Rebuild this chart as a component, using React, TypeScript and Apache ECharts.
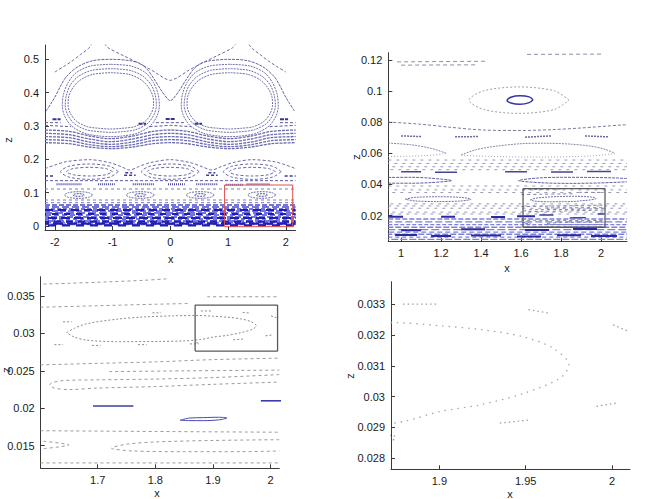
import React, { useEffect, useRef } from "react";
import * as echarts from "echarts";

type P = [number, number];

// ---------- tick labels ----------
const p1XTicks = [-2, -1, 0, 1, 2];
const p1ZTicks = [0, 0.1, 0.2, 0.3, 0.4, 0.5];
const p2XTicks = [1, 1.2, 1.4, 1.6, 1.8, 2];
const p2ZTicks = [0.02, 0.04, 0.06, 0.08, 0.1, 0.12];
const p3XTicks = [1.7, 1.8, 1.9, 2];
const p3ZTicks = [0.015, 0.02, 0.025, 0.03, 0.035];
const p4XTicks = [1.9, 1.95, 2];
const p4ZTicks = [0.028, 0.029, 0.03, 0.031, 0.032, 0.033];

// ---------- axis ranges ----------
const p1XRange: P = [-2.17, 2.17];
const p1ZRange: P = [-0.012, 0.543];
const p2XRange: P = [0.936, 2.13];
const p2ZRange: P = [0.0032, 0.1247];
const p3XRange: P = [1.6012, 2.015];
const p3ZRange: P = [0.01198, 0.03758];
const p4XRange: P = [1.872, 2.0104];
const p4ZRange: P = [0.02764, 0.03373];

// ---------- panel 1 (full view) ----------
const p1TopOuter: P[][] = [
  [[-2.0, 0.462], [-1.85, 0.478], [-1.7, 0.495], [-1.55, 0.515], [-1.42, 0.532], [-1.36, 0.545]],
  [[-1.14, 0.548], [-1.08, 0.535], [-0.8, 0.51], [-0.53, 0.487], [-0.3, 0.465], [-0.12, 0.445], [0, 0.437], [0.12, 0.445], [0.3, 0.465], [0.53, 0.487], [0.8, 0.51], [1.08, 0.535], [1.14, 0.548]],
  [[1.36, 0.545], [1.42, 0.532], [1.55, 0.515], [1.7, 0.495], [1.85, 0.478], [2.0, 0.462]],
];
const p1Separatrix: P[][] = [
  [[-2.15, 0.345], [-2.05, 0.372], [-2.0, 0.386], [-1.9, 0.42], [-1.8, 0.448], [-1.6, 0.478], [-1.34, 0.496], [-1.0, 0.5], [-0.7, 0.496], [-0.53, 0.488], [-0.4, 0.47], [-0.27, 0.438], [-0.15, 0.405], [-0.05, 0.382], [0, 0.376], [0.05, 0.382], [0.15, 0.405], [0.27, 0.438], [0.4, 0.47], [0.53, 0.488], [0.7, 0.496], [1.0, 0.5], [1.34, 0.496], [1.6, 0.478], [1.8, 0.448], [1.9, 0.42], [2.0, 0.386], [2.05, 0.372], [2.15, 0.345]],
];
const p1EyeLoops: P[][] = [
  [[-1.03, 0.485], [-0.68, 0.48], [-0.43, 0.46], [-0.29, 0.43], [-0.21, 0.395], [-0.19, 0.36], [-0.23, 0.33], [-0.35, 0.3], [-0.58, 0.278], [-0.83, 0.27], [-1.03, 0.268], [-1.23, 0.27], [-1.48, 0.278], [-1.71, 0.3], [-1.83, 0.33], [-1.87, 0.36], [-1.85, 0.395], [-1.77, 0.43], [-1.63, 0.46], [-1.38, 0.48], [-1.03, 0.485]],
  [[-1.03, 0.472], [-0.7, 0.467], [-0.47, 0.449], [-0.33, 0.423], [-0.26, 0.392], [-0.24, 0.362], [-0.28, 0.335], [-0.39, 0.308], [-0.6, 0.289], [-0.83, 0.283], [-1.03, 0.281], [-1.23, 0.283], [-1.46, 0.289], [-1.67, 0.308], [-1.78, 0.335], [-1.82, 0.362], [-1.8, 0.392], [-1.73, 0.423], [-1.59, 0.449], [-1.36, 0.467], [-1.03, 0.472]],
  [[-1.03, 0.46], [-0.72, 0.455], [-0.5, 0.438], [-0.37, 0.414], [-0.3, 0.388], [-0.29, 0.362], [-0.33, 0.338], [-0.43, 0.315], [-0.62, 0.298], [-0.84, 0.293], [-1.03, 0.291], [-1.22, 0.293], [-1.44, 0.298], [-1.63, 0.315], [-1.73, 0.338], [-1.77, 0.362], [-1.76, 0.388], [-1.69, 0.414], [-1.56, 0.438], [-1.34, 0.455], [-1.03, 0.46]],
  [[1.03, 0.485], [0.68, 0.48], [0.43, 0.46], [0.29, 0.43], [0.21, 0.395], [0.19, 0.36], [0.23, 0.33], [0.35, 0.3], [0.58, 0.278], [0.83, 0.27], [1.03, 0.268], [1.23, 0.27], [1.48, 0.278], [1.71, 0.3], [1.83, 0.33], [1.87, 0.36], [1.85, 0.395], [1.77, 0.43], [1.63, 0.46], [1.38, 0.48], [1.03, 0.485]],
  [[1.03, 0.472], [0.7, 0.467], [0.47, 0.449], [0.33, 0.423], [0.26, 0.392], [0.24, 0.362], [0.28, 0.335], [0.39, 0.308], [0.6, 0.289], [0.83, 0.283], [1.03, 0.281], [1.23, 0.283], [1.46, 0.289], [1.67, 0.308], [1.78, 0.335], [1.82, 0.362], [1.8, 0.392], [1.73, 0.423], [1.59, 0.449], [1.36, 0.467], [1.03, 0.472]],
  [[1.03, 0.46], [0.72, 0.455], [0.5, 0.438], [0.37, 0.414], [0.3, 0.388], [0.29, 0.362], [0.33, 0.338], [0.43, 0.315], [0.62, 0.298], [0.84, 0.293], [1.03, 0.291], [1.22, 0.293], [1.44, 0.298], [1.63, 0.315], [1.73, 0.338], [1.77, 0.362], [1.76, 0.388], [1.69, 0.414], [1.56, 0.438], [1.34, 0.455], [1.03, 0.46]],
];
const p1BetweenEyes: P[][] = [
  [[-2.17, 0.302], [-1.72, 0.298]],
  [[-0.36, 0.298], [0, 0.302], [0.36, 0.298]],
  [[1.72, 0.298], [2.17, 0.302]],
  [[-2.17, 0.31], [-1.9, 0.31]],
  [[-0.25, 0.31], [0.25, 0.31]],
  [[1.9, 0.31], [2.17, 0.31]],
];
const p1SmallBits: P[][] = [
  [[-2.04, 0.32], [-1.9, 0.32]],
  [[-0.08, 0.321], [0.08, 0.321]],
  [[1.9, 0.32], [2.04, 0.32]],
  [[-0.55, 0.307], [-0.42, 0.307]],
  [[0.42, 0.307], [0.55, 0.307]],
];
const p1WavyBand: P[][] = [
  [[-2.17, 0.288], [-1.75, 0.284], [-1.4, 0.27], [-1.03, 0.262], [-0.65, 0.27], [-0.3, 0.284], [0, 0.288], [0.3, 0.284], [0.65, 0.27], [1.03, 0.262], [1.4, 0.27], [1.75, 0.284], [2.17, 0.288]],
  [[-2.17, 0.278], [-1.75, 0.274], [-1.4, 0.261], [-1.03, 0.253], [-0.65, 0.261], [-0.3, 0.274], [0, 0.278], [0.3, 0.274], [0.65, 0.261], [1.03, 0.253], [1.4, 0.261], [1.75, 0.274], [2.17, 0.278]],
  [[-2.17, 0.268], [-1.75, 0.265], [-1.4, 0.252], [-1.03, 0.245], [-0.65, 0.252], [-0.3, 0.265], [0, 0.268], [0.3, 0.265], [0.65, 0.252], [1.03, 0.245], [1.4, 0.252], [1.75, 0.265], [2.17, 0.268]],
  [[-2.17, 0.259], [-1.75, 0.256], [-1.4, 0.244], [-1.03, 0.238], [-0.65, 0.244], [-0.3, 0.256], [0, 0.259], [0.3, 0.256], [0.65, 0.244], [1.03, 0.238], [1.4, 0.244], [1.75, 0.256], [2.17, 0.259]],
  [[-2.17, 0.25], [-1.75, 0.247], [-1.4, 0.237], [-1.03, 0.232], [-0.65, 0.237], [-0.3, 0.247], [0, 0.25], [0.3, 0.247], [0.65, 0.237], [1.03, 0.232], [1.4, 0.237], [1.75, 0.247], [2.17, 0.25]],
];
const p1UpperWave: P[][] = [
  [[-2.17, 0.172], [-2.0, 0.183], [-1.8, 0.193], [-1.4, 0.199], [-1.05, 0.19], [-0.85, 0.178], [-0.7, 0.168], [-0.55, 0.178], [-0.35, 0.19], [0, 0.199], [0.35, 0.19], [0.55, 0.178], [0.72, 0.168], [0.88, 0.178], [1.08, 0.19], [1.42, 0.199], [1.8, 0.193], [2.0, 0.183], [2.17, 0.172]],
];
const p1MidIslands: P[][] = [
  [[-0.9, 0.163], [-1.046, 0.1793], [-1.4, 0.186], [-1.754, 0.1793], [-1.9, 0.163], [-1.754, 0.1467], [-1.4, 0.14], [-1.046, 0.1467], [-0.9, 0.163]],
  [[0.5, 0.163], [0.354, 0.1793], [0, 0.186], [-0.354, 0.1793], [-0.5, 0.163], [-0.354, 0.1467], [0, 0.14], [0.354, 0.1467], [0.5, 0.163]],
  [[1.92, 0.163], [1.774, 0.1793], [1.42, 0.186], [1.066, 0.1793], [0.92, 0.163], [1.066, 0.1467], [1.42, 0.14], [1.774, 0.1467], [1.92, 0.163]],
  [[-1.0, 0.163], [-1.117, 0.1722], [-1.4, 0.176], [-1.683, 0.1722], [-1.8, 0.163], [-1.683, 0.1538], [-1.4, 0.15], [-1.117, 0.1538], [-1.0, 0.163]],
  [[0.4, 0.163], [0.283, 0.1722], [0, 0.176], [-0.283, 0.1722], [-0.4, 0.163], [-0.283, 0.1538], [0, 0.15], [0.283, 0.1538], [0.4, 0.163]],
  [[1.82, 0.163], [1.703, 0.1722], [1.42, 0.176], [1.137, 0.1722], [1.02, 0.163], [1.137, 0.1538], [1.42, 0.15], [1.703, 0.1538], [1.82, 0.163]],
];
const p1MidDashes: P[][] = [
  [[-0.8, 0.152], [-0.6, 0.152]],
  [[0.62, 0.152], [0.82, 0.152]],
  [[-2.17, 0.15], [-2.0, 0.15]],
  [[1.98, 0.15], [2.17, 0.15]],
  [[-0.78, 0.16], [-0.66, 0.16]],
  [[0.66, 0.16], [0.78, 0.16]],
];
const p1LowerLine: P[][] = [[[-2.17, 0.136], [2.17, 0.136]]];
const p1RulerRow: P[][] = [
  [[-1.97, 0.125], [-1.54, 0.125]],
  [[-1.25, 0.125], [-0.96, 0.125]],
  [[-0.65, 0.125], [-0.27, 0.125]],
  [[-0.04, 0.125], [0.25, 0.125]],
  [[0.45, 0.125], [0.82, 0.125]],
  [[0.96, 0.124], [1.26, 0.124]],
  [[1.32, 0.125], [1.72, 0.125]],
];
const p1SmallIslands: P[][] = [
  [[-1.343, 0.093], [-1.415, 0.1001], [-1.588, 0.103], [-1.761, 0.1001], [-1.833, 0.093], [-1.761, 0.0859], [-1.588, 0.083], [-1.415, 0.0859], [-1.343, 0.093]],
  [[-0.274, 0.093], [-0.346, 0.1001], [-0.519, 0.103], [-0.692, 0.1001], [-0.764, 0.093], [-0.692, 0.0859], [-0.519, 0.083], [-0.346, 0.0859], [-0.274, 0.093]],
  [[0.764, 0.093], [0.692, 0.1001], [0.519, 0.103], [0.346, 0.1001], [0.274, 0.093], [0.346, 0.0859], [0.519, 0.083], [0.692, 0.0859], [0.764, 0.093]],
  [[1.831, 0.093], [1.759, 0.1001], [1.586, 0.103], [1.413, 0.1001], [1.341, 0.093], [1.413, 0.0859], [1.586, 0.083], [1.759, 0.0859], [1.831, 0.093]],
];
const p1SmallCores: P[][] = [
  [[-1.488, 0.093], [-1.517, 0.0958], [-1.588, 0.097], [-1.659, 0.0958], [-1.688, 0.093], [-1.659, 0.0902], [-1.588, 0.089], [-1.517, 0.0902], [-1.488, 0.093]],
  [[-0.419, 0.093], [-0.448, 0.0958], [-0.519, 0.097], [-0.59, 0.0958], [-0.619, 0.093], [-0.59, 0.0902], [-0.519, 0.089], [-0.448, 0.0902], [-0.419, 0.093]],
  [[0.619, 0.093], [0.59, 0.0958], [0.519, 0.097], [0.448, 0.0958], [0.419, 0.093], [0.448, 0.0902], [0.519, 0.089], [0.59, 0.0902], [0.619, 0.093]],
  [[1.686, 0.093], [1.657, 0.0958], [1.586, 0.097], [1.515, 0.0958], [1.486, 0.093], [1.515, 0.0902], [1.586, 0.089], [1.657, 0.0902], [1.686, 0.093]],
];
const p1FaintLevels = [0.111, 0.078, 0.07];
const p1DenseLight = [0.063, 0.057, 0.051, 0.045, 0.039, 0.033, 0.027, 0.021, 0.015, 0.01, 0.005];
const p1DenseDark = [0.048, 0.036, 0.024, 0.013, 0.007, 0.002];
const p1RedBox: P[] = [[0.94, -0.002], [2.12, -0.002], [2.12, 0.123], [0.94, 0.123], [0.94, -0.002]];

// ---------- panel 2 (zoom x 0.94–2.13) ----------
const p2TopDashes: P[][] = [
  [[0.98, 0.1188], [1.42, 0.1192]],
  [[1.0, 0.1167], [1.37, 0.1169]],
  [[1.63, 0.1236], [2.01, 0.1238]],
];
const p2Island: P[][] = [
  [[1.84, 0.0942], [1.767, 0.1002], [1.59, 0.1027], [1.413, 0.1002], [1.34, 0.0942], [1.413, 0.0882], [1.59, 0.0857], [1.767, 0.0882], [1.84, 0.0942]],
];
const p2IslandCore: P[][] = [
  [[1.66, 0.0945], [1.641, 0.0963], [1.595, 0.097], [1.549, 0.0961], [1.53, 0.0941], [1.549, 0.0924], [1.595, 0.0916], [1.641, 0.0926], [1.66, 0.0945]],
];
const p2Wave: P[][] = [
  [[0.936, 0.0801], [1.1, 0.0787], [1.25, 0.0767], [1.41, 0.075], [1.6, 0.0747], [1.75, 0.0752], [1.9, 0.0763], [2.1, 0.0782], [2.13, 0.0784]],
];
const p2Row07: P[][] = [
  [[1.0, 0.0712], [1.1, 0.0708]],
  [[1.27, 0.0706], [1.385, 0.0708]],
  [[1.62, 0.0704], [1.75, 0.0712]],
  [[1.92, 0.0712], [2.035, 0.0706]],
];
const p2ArcsUpper: P[][] = [
  [[0.936, 0.0666], [1.05, 0.0655], [1.15, 0.0632], [1.225, 0.0601]],
  [[1.3, 0.059], [1.38, 0.0625], [1.47, 0.0645], [1.6, 0.0662], [1.72, 0.0665], [1.85, 0.0659], [1.95, 0.0646], [2.02, 0.0626], [2.07, 0.06]],
];
const p2ArcsLower: P[][] = [
  [[1.225, 0.0599], [1.12, 0.0585], [0.936, 0.058]],
  [[2.07, 0.0598], [1.95, 0.0583], [1.7, 0.0576], [1.45, 0.058], [1.3, 0.0588]],
];
const p2MidLevels = [0.0557, 0.0535, 0.0514, 0.0495, 0.039, 0.0365, 0.0348, 0.0275, 0.0262, 0.0247, 0.0222, 0.021];
const p2Row048: P[][] = [
  [[1.0, 0.0482], [1.1, 0.0482]],
  [[1.17, 0.0478], [1.28, 0.0478]],
  [[1.52, 0.0482], [1.63, 0.0482]],
  [[1.75, 0.048], [1.86, 0.048]],
  [[1.93, 0.0483], [2.05, 0.0483]],
];
const p2Islands042: P[][] = [
  [[0.936, 0.0445], [1.05, 0.0446], [1.15, 0.044], [1.253, 0.0425], [1.15, 0.0412], [1.05, 0.0408], [0.936, 0.0408]],
  [[2.13, 0.0438], [2.07, 0.0442], [1.95, 0.0445], [1.8, 0.0446], [1.68, 0.0441], [1.587, 0.0425], [1.7, 0.0411], [1.85, 0.0407], [2.0, 0.041], [2.13, 0.0417]],
];
const p2LeftIsland030: P[][] = [
  [[1.02, 0.0305], [1.07, 0.0317], [1.185, 0.0321], [1.3, 0.0317], [1.35, 0.0305], [1.3, 0.0294], [1.185, 0.029], [1.07, 0.0294], [1.02, 0.0305]],
];
const p2DarkPieces: P[][] = [
  [[0.94, 0.0192], [1.01, 0.0192]],
  [[1.2, 0.0192], [1.27, 0.0192]],
  [[1.45, 0.019], [1.52, 0.019]],
  [[1.58, 0.0195], [1.67, 0.0195]],
  [[0.97, 0.0075], [1.08, 0.0075]],
  [[1.15, 0.0068], [1.25, 0.0068]],
  [[1.35, 0.0072], [1.5, 0.0072]],
  [[1.58, 0.0066], [1.7, 0.0066]],
  [[1.78, 0.0074], [1.9, 0.0074]],
  [[1.95, 0.0068], [2.08, 0.0068]],
  [[1.0, 0.0105], [1.1, 0.0105]],
  [[1.3, 0.0112], [1.42, 0.0112]],
  [[1.62, 0.0108], [1.74, 0.0108]],
  [[1.86, 0.0113], [1.98, 0.0113]],
];
const p2DenseLevels = [0.0178, 0.016, 0.0142, 0.0125, 0.011, 0.0094, 0.008, 0.0062, 0.0047];
const p2GreyBox: P[] = [[1.61, 0.0125], [2.02, 0.0125], [2.02, 0.0373], [1.61, 0.0373], [1.61, 0.0125]];

// ---------- fine structure (panels 3 and 4, also drawn in 2) ----------
const fineEllipse: P[][] = [
  [[1.646, 0.0301], [1.66, 0.0307], [1.681, 0.0313], [1.733, 0.0319], [1.78, 0.0322], [1.83, 0.03235], [1.874, 0.0324], [1.9, 0.0323], [1.925, 0.03217], [1.948, 0.03195], [1.966, 0.03157], [1.975, 0.03103], [1.97, 0.0306], [1.9486, 0.0301], [1.9235, 0.02973], [1.9, 0.02951], [1.879, 0.02919], [1.85, 0.029], [1.808, 0.02893], [1.733, 0.0289], [1.681, 0.0291], [1.66, 0.0295], [1.646, 0.0301]],
];
const fineGreyCurves: P[][] = [
  [[1.606, 0.0366], [1.65, 0.0367], [1.72, 0.0369], [1.78, 0.0371], [1.82, 0.0373]],
  [[1.89, 0.0349], [1.95, 0.0349], [2.015, 0.0349]],
  [[1.601, 0.0335], [1.7, 0.0337], [1.8, 0.0339], [1.86, 0.034]],
  [[1.601, 0.0258], [1.7, 0.026], [1.8, 0.0262], [1.9, 0.0265], [2.015, 0.0267]],
  [[1.72, 0.0249], [1.85, 0.025], [2.015, 0.0251]],
  [[2.015, 0.0245], [1.9, 0.0241], [1.8, 0.0239], [1.7, 0.0238], [1.64, 0.0237], [1.62, 0.0234], [1.617, 0.0231], [1.625, 0.0227], [1.65, 0.0225], [1.7, 0.0227], [1.8, 0.0229], [1.9, 0.0232], [2.015, 0.0235]],
  [[1.601, 0.017], [1.8, 0.0169], [2.015, 0.0168]],
  [[2.015, 0.0158], [1.9, 0.0157], [1.8, 0.0155], [1.75, 0.0152], [1.724, 0.01467], [1.76, 0.0143], [1.85, 0.0142], [1.95, 0.0142], [2.015, 0.0143]],
  [[1.606, 0.0156], [1.65, 0.0151], [1.606, 0.0146]],
  [[1.601, 0.0127], [1.8, 0.0127], [2.015, 0.0127]],
];
const fineBits: P[][] = [
  [[1.879, 0.033], [1.899, 0.033]],
  [[1.9516, 0.03282], [1.964, 0.03271]],
  [[2.0006, 0.03233], [2.01, 0.03211]],
  [[1.991, 0.02968], [2.0025, 0.02979]],
  [[1.935, 0.02914], [1.952, 0.02924]],
  [[1.871, 0.02875], [1.876, 0.0287]],
  [[1.64, 0.03155], [1.655, 0.03155]],
  [[1.795, 0.03275], [1.81, 0.03275]],
  [[1.625, 0.0285], [1.64, 0.0285]],
  [[1.69, 0.0284], [1.705, 0.0284]],
  [[1.77, 0.0285], [1.785, 0.0285]],
  [[1.86, 0.0286], [1.875, 0.0286]],
];
const fineBlue: P[][] = [
  [[1.692, 0.0203], [1.762, 0.0203]],
  [[1.983, 0.021], [2.018, 0.021]],
];
const fineBlueLoop: P[][] = [
  [[1.843, 0.0184], [1.86, 0.0187], [1.8835, 0.01875], [1.91, 0.0188], [1.924, 0.0187], [1.91, 0.01845], [1.8835, 0.01835], [1.86, 0.01835], [1.843, 0.0184]],
];
const p3GreyBox: P[] = [[1.869, 0.02764], [2.012, 0.02764], [2.012, 0.03377], [1.869, 0.03377], [1.869, 0.02764]];

// ---------- styles (kept apart from the data) ----------
const FONT = "'Liberation Sans', Arial, Helvetica, sans-serif";
const lightDashes = [[5, 2], [7, 3], [4, 2], [6, 2], [8, 3], [5, 3], [6, 2], [4, 3], [7, 2], [5, 2], [6, 3]];
const darkDashes = [[8, 5], [6, 6], [9, 4], [7, 5], [10, 4], [8, 6]];

function buildOption() {
  const series: any[] = [];
  const add = (g: number, curves: P[][], color: string, width: number, dash: any, smooth: boolean | number = false, offset = 0) => {
    curves.forEach((c) => {
      series.push({
        type: "line",
        xAxisIndex: g,
        yAxisIndex: g,
        data: c,
        symbol: "none",
        showSymbol: false,
        smooth,
        clip: true,
        silent: true,
        lineStyle: { color, width, type: dash, dashOffset: offset, cap: "butt" },
      });
    });
  };
  const level = (z: number, x0: number, x1: number): P[][] => [[[x0, z], [x1, z]]];

  // panel 1
  add(0, p1TopOuter, "#6a6aa0", 1, [3, 2], 0.3);
  add(0, p1Separatrix, "#6565a0", 1, [3, 1], 0.3);
  add(0, p1EyeLoops, "#7070a8", 1, [2, 1], 0.3);
  add(0, p1BetweenEyes, "#5a5aa0", 1, [3, 2]);
  add(0, p1SmallBits, "#34349a", 2, [4, 1]);
  add(0, p1WavyBand, "#6a6ab0", 1.3, [3, 1], 0.3);
  add(0, p1UpperWave, "#6a6aa8", 1, [3, 2], 0.3);
  add(0, p1MidIslands, "#6a6aa8", 1, [3, 2], 0.3);
  add(0, p1MidDashes, "#3a3a9a", 1.5, [3, 2]);
  add(0, p1LowerLine, "#5a5aa8", 1, [3, 2]);
  add(0, p1RulerRow, "#45459a", 2, [1, 1]);
  add(0, p1SmallIslands, "#6a6aa8", 1, [2, 1], 0.3);
  add(0, p1SmallCores, "#4a4a9a", 1, [2, 1], 0.3);
  p1FaintLevels.forEach((z) => add(0, level(z, p1XRange[0], p1XRange[1]), "#7a7ab8", 1, [3, 3]));
  p1DenseLight.forEach((z, i) => add(0, level(z, p1XRange[0], p1XRange[1]), "#7474dc", 1.8, lightDashes[i % lightDashes.length], false, i * 3));
  p1DenseDark.forEach((z, i) => add(0, level(z, p1XRange[0], p1XRange[1]), "#1e1eb4", 2.2, darkDashes[i % darkDashes.length], false, i * 5));
  add(0, [p1RedBox], "#e05050", 1, "solid");

  // panel 2
  add(1, p2TopDashes, "#9090a8", 1, [4, 3]);
  add(1, p2Island, "#a0a0b0", 1, [2, 2], 0.3);
  add(1, p2IslandCore, "#3535a0", 1.5, "solid", 0.3);
  add(1, p2Wave, "#7a7aa0", 1, [3, 2], 0.3);
  add(1, p2Row07, "#6a6aa0", 1.5, [2, 1]);
  add(1, p2ArcsUpper, "#8888a8", 1, [2, 1], 0.3);
  add(1, p2ArcsLower, "#a0a0b8", 1, [1, 2], 0.3);
  p2MidLevels.forEach((z, i) => add(1, level(z, p2XRange[0], p2XRange[1]), "#9a9ab8", 1, [3, 5], false, i * 2));
  add(1, p2Row048, "#45459a", 1.5, "solid");
  add(1, p2Islands042, "#6060a8", 1, [3, 1], 0.3);
  add(1, p2LeftIsland030, "#7070a8", 1, [2, 1], 0.3);
  add(1, fineEllipse, "#7070a8", 1, [2, 1], 0.3);
  add(1, fineGreyCurves, "#8080a8", 1, [3, 3], 0.3);
  add(1, fineBlue, "#3a3aa8", 1.5, "solid");
  add(1, fineBlueLoop, "#4040b0", 1, "solid");
  p2DenseLevels.forEach((z, i) => add(1, level(z, p2XRange[0], p2XRange[1]), "#7e7edc", 1.3, lightDashes[i % lightDashes.length], false, i * 3));
  add(1, p2DarkPieces, "#2a2aa0", 2, "solid");
  add(1, [p2GreyBox], "#5a5a5a", 1.3, "solid");

  // panel 3
  add(2, fineEllipse, "#8a8a8a", 1, [2, 2], 0.3);
  add(2, fineGreyCurves, "#9a9a9a", 1, [3, 3], 0.3);
  add(2, fineBits, "#8a8a8a", 1, [2, 2]);
  add(2, fineBlue, "#3c3ca8", 1.6, "solid");
  add(2, fineBlueLoop, "#4a4ab4", 1, "solid", 0.3);
  add(2, [p3GreyBox], "#5a5a5a", 1.3, "solid");

  // panel 4
  add(3, fineEllipse, "#a8a8a8", 1.3, [1.5, 5], 0.3);
  add(3, fineGreyCurves, "#b0b0b0", 1.3, [1.5, 5], 0.3);
  add(3, fineBits, "#a0a0a0", 1.3, [1.5, 3]);

  const grids = [
    { left: 45, top: 45, width: 250.6, height: 185 },
    { left: 388.3, top: 52.7, width: 238.7, height: 189 },
    { left: 40.7, top: 276.7, width: 238.6, height: 191.6 },
    { left: 391, top: 281.7, width: 239, height: 187.6 },
  ];
  const xr = [p1XRange, p2XRange, p3XRange, p4XRange];
  const zr = [p1ZRange, p2ZRange, p3ZRange, p4ZRange];
  const xt = [p1XTicks, p2XTicks, p3XTicks, p4XTicks];
  const zt = [p1ZTicks, p2ZTicks, p3ZTicks, p4ZTicks];
  const axisCommon = (ticks: number[]) => ({
    type: "value",
    axisLine: { show: true, onZero: false, lineStyle: { color: "#3a3a3a", width: 1 } },
    axisTick: { show: true, inside: true, length: 4, customValues: ticks, lineStyle: { color: "#3a3a3a" } },
    axisLabel: { show: true, customValues: ticks, fontSize: 11, color: "#1a1a1a", fontFamily: FONT, margin: 6, formatter: (v: number) => String(v) },
    splitLine: { show: false },
  });
  const xAxis = grids.map((_, i) => ({ ...axisCommon(xt[i]), gridIndex: i, position: "bottom", min: xr[i][0], max: xr[i][1] }));
  const yAxis = grids.map((_, i) => ({ ...axisCommon(zt[i]), gridIndex: i, position: "left", min: zr[i][0], max: zr[i][1] }));

  const label = (text: string, x: number, y: number, rot = 0) => ({
    type: "text",
    x,
    y,
    rotation: rot,
    style: { text, fontSize: 11, fontFamily: FONT, fill: "#1a1a1a", align: "center", verticalAlign: "middle" },
  });

  return {
    animation: false,
    backgroundColor: "#ffffff",
    grid: grids.map((g) => ({ ...g, containLabel: false })),
    xAxis,
    yAxis,
    series,
    graphic: [
      label("x", 170.7, 259),
      label("z", 8, 140, Math.PI / 2),
      label("x", 507, 268),
      label("z", 356, 157, Math.PI / 2),
      label("x", 157, 493),
      label("z", 6, 370, Math.PI / 2),
      label("x", 510, 494),
      label("z", 350, 376, Math.PI / 2),
    ],
  };
}

export default function App() {
  const ref = useRef<HTMLDivElement>(null);
  useEffect(() => {
    if (!ref.current) return;
    const chart = echarts.init(ref.current, undefined, { renderer: "svg" });
    chart.setOption(buildOption() as any);
    return () => chart.dispose();
  }, []);
  return (
    <div
      ref={ref}
      style={{ position: "fixed", left: 0, top: 0, width: 664, height: 499, background: "#fff" }}
    />
  );
}
